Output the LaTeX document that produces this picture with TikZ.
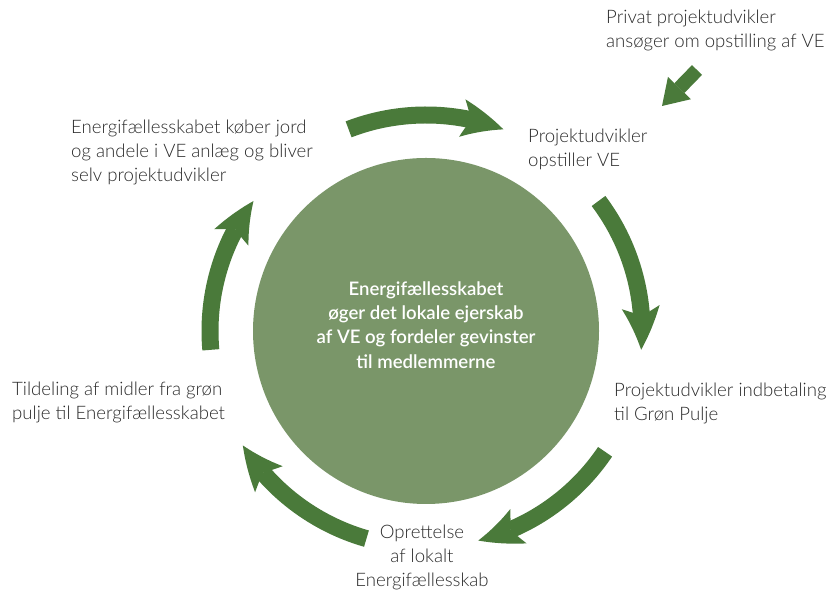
\documentclass[tikz,border=0pt]{standalone}
\usepackage{fontspec}
\setmainfont{Lato}[UprightFont={* Light},BoldFont={* Semibold}]
\usetikzlibrary{arrows.meta,bending}

\definecolor{ringgreen}{HTML}{4A7A3A}
\definecolor{hubgreen}{HTML}{7A9669}
\definecolor{labelgray}{HTML}{2A2A2A}

\tikzset{
  steplabel/.style={text=labelgray,font=\fontsize{18.6}{24}\selectfont,inner sep=0,align=left,anchor=west},
  cyclearrow/.style={draw=ringgreen,line width=17pt,-{Stealth[length=43pt,width=38pt,inset=9pt,line width=0pt,bend]}},
  pointer/.style={draw=ringgreen,line width=14pt,-{Triangle[length=25pt,width=32pt,line width=0pt]}},
}

\begin{document}
\begin{tikzpicture}[x=1pt,y=1pt]
    \pgfmathsetmacro{\ringradius}{216}
    \pgfmathsetmacro{\ringspan}{42}
    \useasboundingbox (0,0) rectangle (840,601);
    % the hub
    \node[circle,fill=hubgreen,minimum size=346pt,inner sep=0] (hub) at (426,270) {};
    \node[text=white,font=\bfseries\fontsize{18.6}{24.3}\selectfont,align=center,inner sep=0] (hubtext) at (426,276)
    {Energifællesskabet\\øger det lokale ejerskab\\af VE og fordeler gevinster\\til medlemmerne};
    % the steps round it
    \node[steplabel] (privat) at (606,571) {Privat projektudvikler\\ansøger om opstilling af VE};
    \node[steplabel] (opstil) at (528,452) {Projektudvikler\\opstiller VE};
    \node[steplabel] (indbetal) at (614,198) {Projektudvikler indbetaling\\til Grøn Pulje};
    \node[steplabel,anchor=center,align=center] (oprettelse) at (422,44) {Oprettelse\\af lokalt\\Energifællesskab};
    \node[steplabel] (tildel) at (12,199) {Tildeling af midler fra grøn\\pulje til Energifællesskabet};
    \node[steplabel] (koeber) at (71,449) {Energifællesskabet køber jord\\og andele i VE anlæg og bliver\\selv projektudvikler};
    % arrows
    \foreach \tail in {111,37,-34,-106,-175}
        \draw[cyclearrow] ([shift={(\tail:\ringradius)}]hub.center) arc[start angle=\tail,end angle=\tail-\ringspan,radius=\ringradius];
    \coordinate (privtail) at (697,531);
    \coordinate (privtip) at (662,495);
    \draw[pointer] (privtail) -- (privtip);
\end{tikzpicture}
\end{document}
